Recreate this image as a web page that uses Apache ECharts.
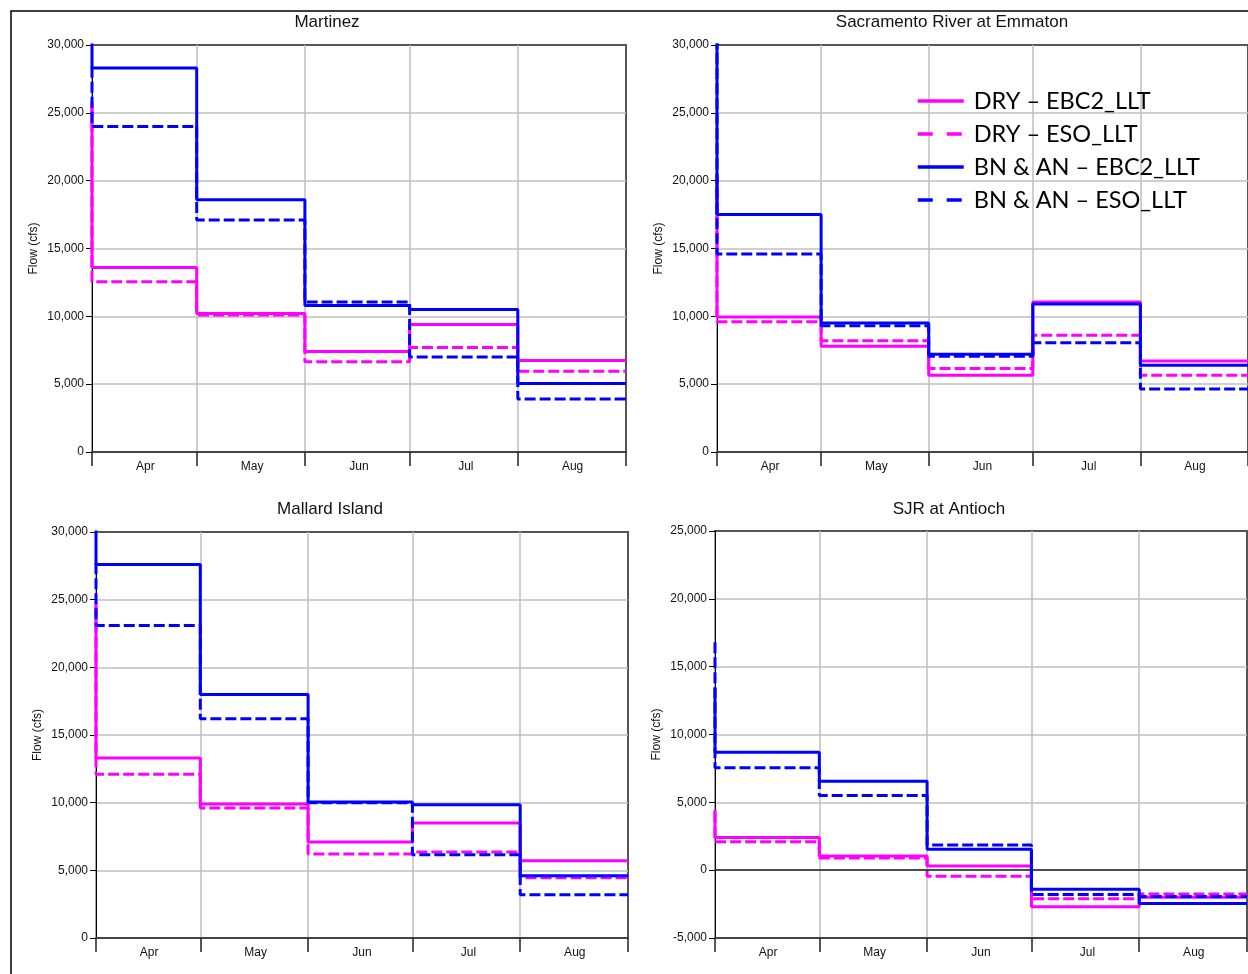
<!DOCTYPE html>
<html>
<head>
<meta charset="utf-8">
<script src="https://cdn.jsdelivr.net/npm/echarts@6/dist/echarts.min.js"></script>
<style>
  html, body { margin: 0; padding: 0; background: #fff; }
  #chart { width: 1248px; height: 974px; }
</style>
</head>
<body>
<div id="chart"></div>
<script>
// Month labels shown under each panel
const months = ['Apr', 'May', 'Jun', 'Jul', 'Aug'];
// Step boundaries: opening day, then the start of each month, held to Sep 1
const stepDates = ['2000-04-01', '2000-04-01', '2000-05-01', '2000-06-01', '2000-07-01', '2000-08-01', '2000-09-01'];
const seriesNames = ['DRY – EBC2_LLT', 'DRY – ESO_LLT', 'BN & AN – EBC2_LLT', 'BN & AN – ESO_LLT'];
const stations = ['Martinez', 'Sacramento River at Emmaton', 'Mallard Island', 'SJR at Antioch'];
const yMin = [0, 0, 0, -5000];
const yMax = [30000, 30000, 30000, 25000];

// Flow (cfs): [opening day, Apr, May, Jun, Jul, Aug]
const martinezDryEbc2 = [25800, 13600, 10200, 7400, 9400, 6750];
const martinezDryEso = [25500, 12550, 10100, 6650, 7700, 5950];
const martinezWetEbc2 = [31000, 28300, 18600, 10800, 10500, 5050];
const martinezWetEso = [28400, 24000, 17100, 11050, 7000, 3900];

const emmatonDryEbc2 = [20400, 9950, 7800, 5650, 11050, 6700];
const emmatonDryEso = [19600, 9600, 8200, 6150, 8600, 5650];
const emmatonWetEbc2 = [31000, 17500, 9500, 7200, 10900, 6400];
const emmatonWetEso = [30500, 14600, 9300, 7050, 8050, 4650];

const mallardDryEbc2 = [24800, 13300, 9900, 7100, 8500, 5700];
const mallardDryEso = [24500, 12100, 9600, 6200, 6350, 4450];
const mallardWetEbc2 = [31000, 27600, 18000, 10050, 9850, 4600];
const mallardWetEso = [27700, 23100, 16200, 10000, 6150, 3200];

const antiochDryEbc2 = [4450, 2400, 1050, 300, -2700, -2000];
const antiochDryEso = [4300, 2100, 900, -450, -2100, -1750];
const antiochWetEbc2 = [13450, 8700, 6550, 1550, -1400, -2450];
const antiochWetEso = [16800, 7550, 5500, 1850, -1800, -1950];

const stationData = [
  [martinezDryEbc2, martinezDryEso, martinezWetEbc2, martinezWetEso],
  [emmatonDryEbc2, emmatonDryEso, emmatonWetEbc2, emmatonWetEso],
  [mallardDryEbc2, mallardDryEso, mallardWetEbc2, mallardWetEso],
  [antiochDryEbc2, antiochDryEso, antiochWetEbc2, antiochWetEso]
];

const seriesColors = ['#ff00ff', '#ff00ff', '#0000ff', '#0000ff'];
const seriesDashed = [false, true, false, true];

const axisFont = 'Liberation Sans, Arial, sans-serif';
const gridColor = '#bfbfbf';
const DAY = 24 * 3600 * 1000;

// Panel layout
const grids = [
  { left: 92, right: 622, top: 45, height: 407 },
  { left: 717, right: -2, top: 45, height: 407 },
  { left: 96, right: 620, top: 532, height: 406 },
  { left: 715, right: 1, top: 531, height: 407 }
];
const titlePos = [[327, 14], [952, 14], [330, 501], [949, 501]];

const option = {
  animation: false,
  backgroundColor: '#fff',
  graphic: [{
    type: 'rect', silent: true, z: -10,
    shape: { x: 11, y: 11, width: 1400, height: 1100 },
    style: { fill: 'none', stroke: '#000', lineWidth: 1.5 }
  }],
  title: stations.map((s, i) => ({
    text: s, left: titlePos[i][0], top: titlePos[i][1], padding: 0,
    textAlign: 'center',
    textStyle: { fontFamily: axisFont, fontSize: 17, fontWeight: 'normal', color: '#111' }
  })),
  legend: {
    orient: 'vertical', left: 916, top: 88, padding: 0,
    itemWidth: 46, itemHeight: 14, itemGap: 7, selectedMode: false,
    textStyle: { fontFamily: 'Lato, sans-serif', fontSize: 23.5, color: '#000', lineHeight: 26, padding: [0, 0, 0, 5] },
    data: seriesNames.map((n, k) => ({
      name: n,
      itemStyle: { opacity: 0, color: 'transparent', borderWidth: 0 },
      lineStyle: { width: 3.5, type: seriesDashed[k] ? [15, 14] : 'solid', color: seriesColors[k] }
    }))
  },
  grid: grids.map(g => Object.assign({ show: true, borderColor: '#555', borderWidth: 2, backgroundColor: 'transparent', containLabel: false }, g)),
  xAxis: [],
  yAxis: [],
  series: []
};

grids.forEach((g, s) => {
  // Time axis: month boundaries, ticks and vertical grid lines
  option.xAxis.push({
    type: 'time', gridIndex: s, position: 'bottom',
    min: '2000-04-01', max: '2000-09-01',
    minInterval: 28 * DAY, maxInterval: 31 * DAY, splitNumber: 5,
    axisLine: { show: true, onZero: false, lineStyle: { color: '#444', width: 2 } },
    axisTick: { show: true, length: 14, lineStyle: { color: '#222', width: 1.5 } },
    axisLabel: { show: false },
    splitLine: { show: true, showMinLine: false, showMaxLine: false, lineStyle: { color: gridColor, width: 1.5 } }
  });
  // Category axis: month names centred in each month
  option.xAxis.push({
    type: 'category', gridIndex: s, position: 'bottom', data: months, boundaryGap: true,
    axisLine: { show: false, onZero: false },
    axisTick: { show: false },
    splitLine: { show: false },
    axisLabel: { margin: 9, fontFamily: axisFont, fontSize: 12, color: '#111' }
  });
  option.yAxis.push({
    type: 'value', gridIndex: s, min: yMin[s], max: yMax[s], interval: 5000,
    name: 'Flow (cfs)', nameLocation: 'middle', nameRotate: 90, nameGap: 52,
    nameTextStyle: { fontFamily: axisFont, fontSize: 12, color: '#111' },
    axisLine: { show: true, onZero: false, lineStyle: { color: '#000', width: 1 } },
    axisTick: { show: true, length: 6, lineStyle: { color: '#000' } },
    axisLabel: { margin: 8, fontFamily: axisFont, fontSize: 12, color: '#111',
      formatter: v => v.toLocaleString('en-US') },
    splitLine: { show: true, showMinLine: false, showMaxLine: false, lineStyle: { color: gridColor, width: 1.5 } }
  });

  stationData[s].forEach((vals, k) => {
    const ser = {
      type: 'line', name: seriesNames[k],
      xAxisIndex: 2 * s, yAxisIndex: s,
      step: 'end', symbol: 'none', showSymbol: false, clip: true,
      color: seriesColors[k],
      lineStyle: { color: seriesColors[k], width: 3, type: seriesDashed[k] ? [11, 4] : 'solid' },
      data: stepDates.map((d, i) => [d, vals[Math.min(i, vals.length - 1)]]),
      z: 3 + k
    };
    if (yMin[s] < 0 && k === 0) {
      ser.markLine = {
        silent: true, symbol: 'none', label: { show: false },
        lineStyle: { color: '#222', width: 1.5, type: 'solid' },
        data: [{ yAxis: 0 }]
      };
    }
    option.series.push(ser);
  });
});

const chart = echarts.init(document.getElementById('chart'), null, { renderer: 'canvas' });
chart.setOption(option);
</script>
</body>
</html>
